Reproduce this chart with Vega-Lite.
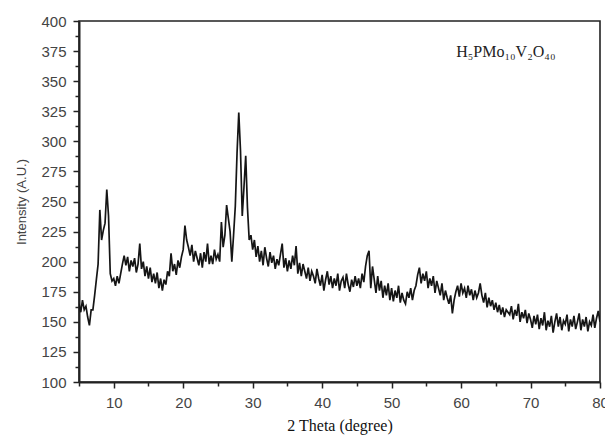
{
  "$schema": "https://vega.github.io/schema/vega-lite/v6.json",
  "description": "XRD pattern of H5PMo10V2O40",
  "width": 521,
  "height": 361,
  "autosize": {"type": "none"},
  "padding": {"left": 79, "top": 21, "right": 5, "bottom": 53},
  "config": {
    "view": {"stroke": "#222", "strokeWidth": 1.6},
    "axis": {
      "domainColor": "#222",
      "domainWidth": 2,
      "tickColor": "#222",
      "tickWidth": 1.5,
      "grid": false,
      "labelFont": "Liberation Sans",
      "labelFontSize": 15,
      "labelColor": "#444",
      "labelOverlap": false
    }
  },
  "encoding": {
    "x": {
      "field": "x",
      "type": "quantitative",
      "scale": {"domain": [5, 80], "nice": false, "zero": false},
      "axis": {
        "title": "2 Theta (degree)",
        "titleFont": "Liberation Serif",
        "titleFontSize": 16,
        "titleFontWeight": "normal",
        "titleColor": "#111",
        "titlePadding": 7,
        "values": [5, 10, 15, 20, 25, 30, 35, 40, 45, 50, 55, 60, 65, 70, 75, 80],
        "labelExpr": "datum.value % 10 === 0 ? datum.label : ''",
        "labelOverlap": false,
        "labelFlush": false,
        "tickSize": {"condition": {"test": "datum.value % 10 === 0", "value": 6}, "value": 4},
        "labelPadding": 7
      }
    },
    "y": {
      "field": "y",
      "type": "quantitative",
      "scale": {"domain": [100, 400], "nice": false, "zero": false},
      "axis": {
        "title": "Intensity (A.U.)",
        "titleFont": "Liberation Sans",
        "titleFontSize": 13,
        "titleFontWeight": "normal",
        "titleColor": "#444",
        "titlePadding": 12,
        "values": [100, 112.5, 125, 137.5, 150, 162.5, 175, 187.5, 200, 212.5, 225, 237.5, 250, 262.5, 275, 287.5, 300, 312.5, 325, 337.5, 350, 362.5, 375, 387.5, 400],
        "labelExpr": "datum.value % 25 === 0 ? datum.label : ''",
        "labelOverlap": false,
        "labelFlush": false,
        "tickSize": {"condition": {"test": "datum.value % 25 === 0", "value": 6}, "value": 4},
        "labelPadding": 7
      }
    }
  },
  "layer": [
    {
      "data": {
        "values": [
          {"x":5,"y":165},{"x":5.25,"y":158},{"x":5.5,"y":168},{"x":5.75,"y":160},
          {"x":6,"y":163},{"x":6.25,"y":154},{"x":6.5,"y":147},{"x":6.75,"y":160},
          {"x":7,"y":160},{"x":7.25,"y":172},{"x":7.5,"y":185},{"x":7.75,"y":198},
          {"x":8,"y":243},{"x":8.25,"y":218},{"x":8.5,"y":226},{"x":8.75,"y":232},
          {"x":9,"y":260},{"x":9.25,"y":238},{"x":9.5,"y":190},{"x":9.75,"y":184},
          {"x":10,"y":186},{"x":10.25,"y":180},{"x":10.5,"y":188},{"x":10.75,"y":182},
          {"x":11,"y":190},{"x":11.25,"y":198},{"x":11.5,"y":205},{"x":11.75,"y":197},
          {"x":12,"y":204},{"x":12.25,"y":192},{"x":12.5,"y":201},{"x":12.75,"y":196},
          {"x":13,"y":203},{"x":13.25,"y":191},{"x":13.5,"y":198},{"x":13.75,"y":215},
          {"x":14,"y":194},{"x":14.25,"y":200},{"x":14.5,"y":188},{"x":14.75,"y":196},
          {"x":15,"y":186},{"x":15.25,"y":195},{"x":15.5,"y":183},{"x":15.75,"y":190},
          {"x":16,"y":182},{"x":16.25,"y":191},{"x":16.5,"y":178},{"x":16.75,"y":186},
          {"x":17,"y":176},{"x":17.25,"y":185},{"x":17.5,"y":181},{"x":17.75,"y":192},
          {"x":18,"y":188},{"x":18.25,"y":207},{"x":18.5,"y":192},{"x":18.75,"y":198},
          {"x":19,"y":189},{"x":19.25,"y":201},{"x":19.5,"y":195},{"x":19.75,"y":204},
          {"x":20,"y":210},{"x":20.25,"y":230},{"x":20.5,"y":218},{"x":20.75,"y":212},
          {"x":21,"y":205},{"x":21.25,"y":214},{"x":21.5,"y":200},{"x":21.75,"y":209},
          {"x":22,"y":203},{"x":22.25,"y":197},{"x":22.5,"y":207},{"x":22.75,"y":195},
          {"x":23,"y":208},{"x":23.25,"y":200},{"x":23.5,"y":215},{"x":23.75,"y":198},
          {"x":24,"y":205},{"x":24.25,"y":198},{"x":24.5,"y":210},{"x":24.75,"y":202},
          {"x":25,"y":206},{"x":25.25,"y":200},{"x":25.5,"y":233},{"x":25.75,"y":212},
          {"x":26,"y":222},{"x":26.25,"y":247},{"x":26.5,"y":236},{"x":26.75,"y":225},
          {"x":27,"y":200},{"x":27.25,"y":222},{"x":27.5,"y":246},{"x":27.75,"y":290},
          {"x":28,"y":324},{"x":28.25,"y":292},{"x":28.5,"y":238},{"x":28.75,"y":262},
          {"x":29,"y":288},{"x":29.25,"y":245},{"x":29.5,"y":218},{"x":29.75,"y":222},
          {"x":30,"y":210},{"x":30.25,"y":218},{"x":30.5,"y":204},{"x":30.75,"y":213},
          {"x":31,"y":200},{"x":31.25,"y":209},{"x":31.5,"y":197},{"x":31.75,"y":212},
          {"x":32,"y":203},{"x":32.25,"y":196},{"x":32.5,"y":208},{"x":32.75,"y":199},
          {"x":33,"y":205},{"x":33.25,"y":194},{"x":33.5,"y":202},{"x":33.75,"y":197},
          {"x":34,"y":206},{"x":34.25,"y":215},{"x":34.5,"y":195},{"x":34.75,"y":203},
          {"x":35,"y":192},{"x":35.25,"y":201},{"x":35.5,"y":194},{"x":35.75,"y":205},
          {"x":36,"y":197},{"x":36.25,"y":213},{"x":36.5,"y":190},{"x":36.75,"y":199},
          {"x":37,"y":188},{"x":37.25,"y":198},{"x":37.5,"y":192},{"x":37.75,"y":186},
          {"x":38,"y":195},{"x":38.25,"y":184},{"x":38.5,"y":192},{"x":38.75,"y":188},
          {"x":39,"y":182},{"x":39.25,"y":194},{"x":39.5,"y":186},{"x":39.75,"y":180},
          {"x":40,"y":189},{"x":40.25,"y":176},{"x":40.5,"y":185},{"x":40.75,"y":192},
          {"x":41,"y":181},{"x":41.25,"y":188},{"x":41.5,"y":178},{"x":41.75,"y":186},
          {"x":42,"y":180},{"x":42.25,"y":190},{"x":42.5,"y":176},{"x":42.75,"y":184},
          {"x":43,"y":187},{"x":43.25,"y":178},{"x":43.5,"y":190},{"x":43.75,"y":181},
          {"x":44,"y":175},{"x":44.25,"y":185},{"x":44.5,"y":179},{"x":44.75,"y":188},
          {"x":45,"y":180},{"x":45.25,"y":186},{"x":45.5,"y":178},{"x":45.75,"y":190},
          {"x":46,"y":183},{"x":46.25,"y":196},{"x":46.5,"y":205},{"x":46.75,"y":209},
          {"x":47,"y":178},{"x":47.25,"y":196},{"x":47.5,"y":185},{"x":47.75,"y":174},
          {"x":48,"y":188},{"x":48.25,"y":176},{"x":48.5,"y":184},{"x":48.75,"y":170},
          {"x":49,"y":180},{"x":49.25,"y":172},{"x":49.5,"y":182},{"x":49.75,"y":168},
          {"x":50,"y":178},{"x":50.25,"y":167},{"x":50.5,"y":176},{"x":50.75,"y":170},
          {"x":51,"y":180},{"x":51.25,"y":166},{"x":51.5,"y":174},{"x":51.75,"y":168},
          {"x":52,"y":165},{"x":52.25,"y":175},{"x":52.5,"y":170},{"x":52.75,"y":178},
          {"x":53,"y":168},{"x":53.25,"y":176},{"x":53.5,"y":180},{"x":53.75,"y":189},
          {"x":54,"y":195},{"x":54.25,"y":182},{"x":54.5,"y":190},{"x":54.75,"y":184},
          {"x":55,"y":192},{"x":55.25,"y":178},{"x":55.5,"y":186},{"x":55.75,"y":180},
          {"x":56,"y":188},{"x":56.25,"y":174},{"x":56.5,"y":184},{"x":56.75,"y":178},
          {"x":57,"y":172},{"x":57.25,"y":182},{"x":57.5,"y":168},{"x":57.75,"y":176},
          {"x":58,"y":170},{"x":58.25,"y":165},{"x":58.5,"y":172},{"x":58.75,"y":157},
          {"x":59,"y":168},{"x":59.25,"y":175},{"x":59.5,"y":180},{"x":59.75,"y":171},
          {"x":60,"y":182},{"x":60.25,"y":174},{"x":60.5,"y":178},{"x":60.75,"y":170},
          {"x":61,"y":180},{"x":61.25,"y":172},{"x":61.5,"y":177},{"x":61.75,"y":168},
          {"x":62,"y":176},{"x":62.25,"y":170},{"x":62.5,"y":174},{"x":62.75,"y":182},
          {"x":63,"y":172},{"x":63.25,"y":166},{"x":63.5,"y":174},{"x":63.75,"y":162},
          {"x":64,"y":170},{"x":64.25,"y":163},{"x":64.5,"y":168},{"x":64.75,"y":160},
          {"x":65,"y":166},{"x":65.25,"y":158},{"x":65.5,"y":164},{"x":65.75,"y":156},
          {"x":66,"y":162},{"x":66.25,"y":154},{"x":66.5,"y":160},{"x":66.75,"y":158},
          {"x":67,"y":156},{"x":67.25,"y":163},{"x":67.5,"y":152},{"x":67.75,"y":160},
          {"x":68,"y":155},{"x":68.25,"y":165},{"x":68.5,"y":150},{"x":68.75,"y":158},
          {"x":69,"y":153},{"x":69.25,"y":160},{"x":69.5,"y":149},{"x":69.75,"y":157},
          {"x":70,"y":152},{"x":70.25,"y":145},{"x":70.5,"y":155},{"x":70.75,"y":148},
          {"x":71,"y":156},{"x":71.25,"y":144},{"x":71.5,"y":153},{"x":71.75,"y":147},
          {"x":72,"y":158},{"x":72.25,"y":143},{"x":72.5,"y":151},{"x":72.75,"y":146},
          {"x":73,"y":155},{"x":73.25,"y":141},{"x":73.5,"y":150},{"x":73.75,"y":157},
          {"x":74,"y":146},{"x":74.25,"y":154},{"x":74.5,"y":143},{"x":74.75,"y":151},
          {"x":75,"y":148},{"x":75.25,"y":156},{"x":75.5,"y":142},{"x":75.75,"y":152},
          {"x":76,"y":146},{"x":76.25,"y":155},{"x":76.5,"y":144},{"x":76.75,"y":150},
          {"x":77,"y":157},{"x":77.25,"y":143},{"x":77.5,"y":152},{"x":77.75,"y":146},
          {"x":78,"y":154},{"x":78.25,"y":142},{"x":78.5,"y":150},{"x":78.75,"y":147},
          {"x":79,"y":156},{"x":79.25,"y":145},{"x":79.5,"y":153},{"x":79.75,"y":159},
          {"x":80,"y":150}
        ]
      },
      "mark": {"type": "line", "color": "#151515", "strokeWidth": 1.7, "clip": true}
    },
    {
      "data": {"values": [{"x": 59.3, "y": 370, "label": "H₅PMo₁₀V₂O₄₀"}]},
      "mark": {"type": "text", "align": "left", "baseline": "alphabetic", "font": "Liberation Serif", "fontSize": 16, "color": "#222"},
      "encoding": {
        "text": {"field": "label"}
      }
    }
  ]
}
